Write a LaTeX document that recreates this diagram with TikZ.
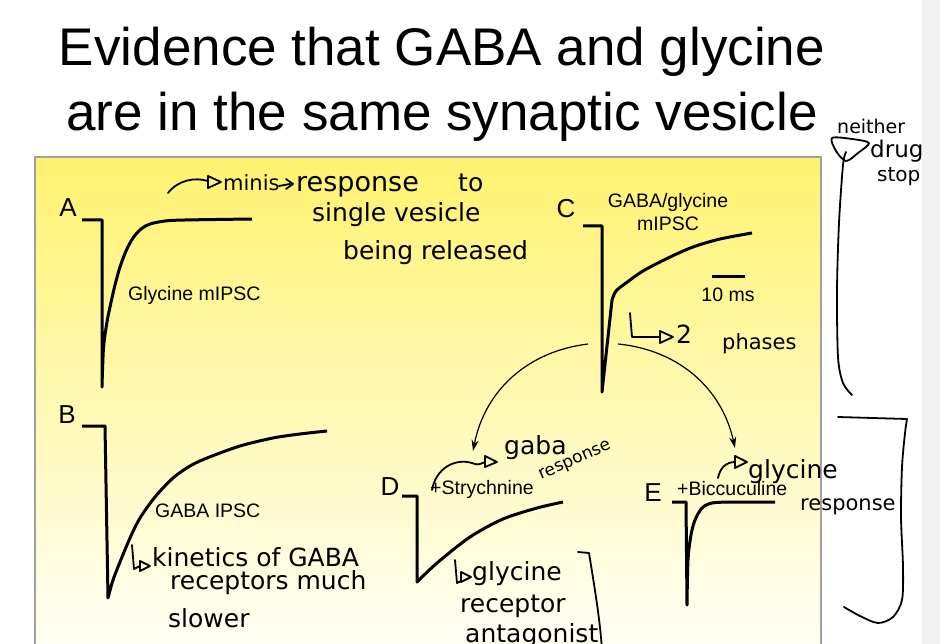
\documentclass[tikz,border=0pt]{standalone}
\usepackage{fontspec}
\setmainfont{Liberation Sans}
\newfontfamily\handfont{DejaVu Sans}
\usetikzlibrary{arrows.meta}
\definecolor{ytop}{RGB}{255,242,112}
\definecolor{ybot}{RGB}{255,255,246}
\definecolor{boxline}{RGB}{160,160,160}
\begin{document}
\begin{tikzpicture}[x=1pt,y=-1pt,
  trace/.style={line width=3pt, line join=round},
  lbl/.style={font=\fontsize{19.5}{23}\selectfont, inner sep=0pt},
  panel/.style={font=\fontsize{26}{30}\selectfont, inner sep=0pt},
  titletext/.style={font=\fontsize{53}{64}\selectfont, inner sep=0pt, anchor=base},
  hand/.style={font=\handfont\fontsize{25}{27}\selectfont, inner sep=0pt, anchor=base west},
  handsmall/.style={hand, font=\handfont\fontsize{21}{23}\selectfont},
  ink/.style={line width=1.8pt, line cap=round, line join=round},
  conn/.style={line width=1.2pt, -{Stealth[length=11pt,width=7pt]}},
]
\useasboundingbox (0,0) rectangle (940,644);
\fill[white] (0,0) rectangle (940,644);
\fill[black!5] (922,0) rectangle (940,644);
\shade[top color=ytop, bottom color=ybot] (35,157) rectangle (821,650);
\draw[boxline, line width=1.5pt] (35,650) -- (35,157) -- (821,157) -- (821,650);

% title
\node[titletext] (t1) at (442,66) {Evidence that GABA and glycine};
\node[titletext] (t2) at (442,131) {are in the same synaptic vesicle};

% panel A
\node[panel] (A) at (68,208) {A};
\draw[trace] (82,220) -- (102,220) -- (102,387) -- plot[smooth] coordinates {(102,387) (103.5,348) (107,322) (110,307) (115,285) (120,267) (126,251) (133,238) (141,229) (150,224) (165,221) (185,220) (252,219)};
\node[lbl, anchor=west] (glyA) at (128,295) {Glycine mIPSC};

% panel C
\node[panel] (C) at (566,209) {C};
\draw[trace] (583,226) -- (602,226) -- (602,392) -- (612,300) -- plot[smooth] coordinates {(612,300) (616,291) (626,283) (643,271) (668,258) (693,247) (720,239) (752,233)};
\node[lbl, align=center] (Clbl) at (668,212) {GABA/glycine\\mIPSC};
\draw[trace] (712,277) -- (745,277);
\node[lbl] (scale) at (728,295) {10 ms};

% curved arrows
\coordinate (c1) at (588,344);
\coordinate (dA) at (473,451);
\coordinate (c2) at (618,344);
\coordinate (eA) at (735,448);
\draw[conn] (c1) to[bend right=36] (dA);
\draw[conn] (c2) to[bend left=36] (eA);

% panel B
\node[panel] (B) at (67,415) {B};
\draw[trace] (82,426) -- (105,426) -- (108,598) -- plot[smooth] coordinates {(108,598) (113,580) (120,562) (130,538) (140,518) (155,497) (173,478) (190,466) (207,458) (240,446) (273,438) (300,434) (327,431)};
\node[lbl, anchor=west] (gabaB) at (155,511) {GABA IPSC};

% panel D
\node[panel] (D) at (390,487) {D};
\draw[trace] (402,496) -- (417,496) -- (417,582) -- plot[smooth] coordinates {(417,582) (437,563) (470,537) (503,519) (537,508) (563,502)};
\node[lbl, anchor=west] (strD) at (430,489) {+Strychnine};

% panel E
\node[panel] (E) at (653,493) {E};
\draw[trace] (672,502) -- (686,502) -- (687,605) -- plot[smooth] coordinates {(687,605) (688,560) (691,535) (695,520) (702,508) (712,503) (730,502)} -- (775,502);
\node[lbl, anchor=west] (bicE) at (677,489) {+Biccuculine};

% handwriting: minis
\draw[ink] (168,193) .. controls (178,180) and (195,177) .. (208,181);
\draw[ink] (208,176) -- (221,182) -- (208,188) -- cycle;
\node[handsmall] (h1) at (223,191) {minis};
\draw[ink] (279,186) -- (290,184);
\draw[ink] (286,179) -- (293,184) -- (286,189);
\node[hand, font=\handfont\fontsize{27}{29}\selectfont] (h2) at (296,192) {response};
\node[hand] (h2b) at (458,192) {to};
\node[hand] (h3) at (312,222) {single vesicle};
\node[hand] (h4) at (343,260) {being released};

% handwriting: 2 phases
\draw[ink] (630,313) -- (632,337) -- (660,337);
\draw[ink] (660,331) -- (673,337) -- (660,343) -- cycle;
\node[hand] (h5) at (676,344) {2};
\node[handsmall] (h6) at (722,349) {phases};

% handwriting: kinetics
\draw[ink] (132,545) -- (134,569) -- (140,566);
\draw[ink] (140,561) -- (150,566) -- (140,571) -- cycle;
\node[hand] (h7) at (152,566) {kinetics of GABA};
\node[hand] (h8) at (170,589) {receptors much};
\node[hand] (h9) at (168,627) {slower};

% handwriting: gaba response
\draw[ink] (432,490) .. controls (436,468) and (455,458) .. (472,463) .. controls (478,465) .. (485,462);
\draw[ink] (485,456) -- (497,462) -- (485,467) -- cycle;
\node[hand] (h10) at (504,454) {gaba};
\node[hand, font=\handfont\fontsize{17}{19}\selectfont, rotate=24] (h11) at (541,480) {response};

% handwriting: glycine receptor antagonist
\draw[ink] (455,560) -- (457,583) -- (461,581);
\draw[ink] (461,572) -- (471,577) -- (461,582) -- cycle;
\node[hand] (h12) at (472,580) {glycine};
\node[hand] (h13) at (460,612) {receptor};
\node[hand] (h14) at (465,642) {antagonist};
\draw[ink] (578,552) -- (589,553) .. controls (595,590) and (600,620) .. (602,650);

% handwriting: glycine response
\draw[ink] (718,478) .. controls (720,468) and (726,462) .. (735,462);
\draw[ink] (735,456) -- (747,462) -- (735,468) -- cycle;
\node[hand] (h15) at (748,478) {glycine};
\node[handsmall] (h16) at (800,510) {response};
\draw[ink] (838,417) -- (907,419) -- plot[smooth] coordinates {(907,419) (905,433) (902,467) (901,517) (903,567) (902,600) (893,617) (878,623) (860,616) (844,607)};

% handwriting: neither drug stop
\node[hand, font=\handfont\fontsize{19}{21}\selectfont] (h17) at (837,134) {neither};
\node[hand, font=\handfont\fontsize{23}{25}\selectfont] (h18) at (870,158) {drug};
\node[hand, font=\handfont\fontsize{20}{22}\selectfont] (h19) at (877,182) {stop};
\draw[ink] plot[smooth cycle] coordinates {(832,138) (852,139) (869,143) (858,153) (846,161) (836,151)};
\draw[ink] plot[smooth] coordinates {(846,152) (843,165) (839,223) (837,290) (838,357) (843,383) (852,395)};
\end{tikzpicture}
\end{document}
